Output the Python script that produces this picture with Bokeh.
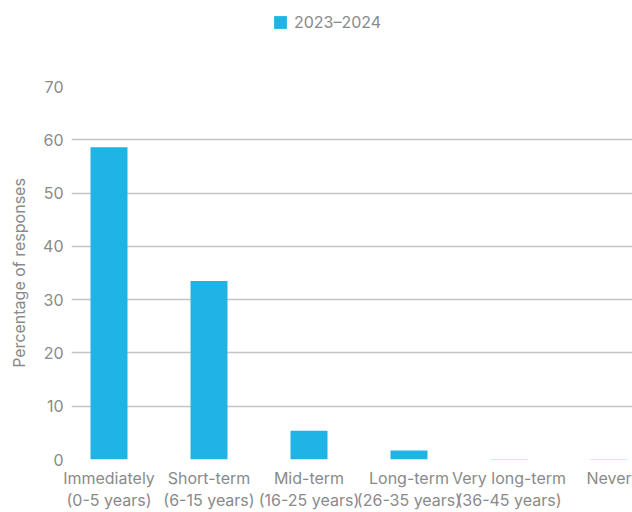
from bokeh.plotting import figure
from bokeh.models import ColumnDataSource, Legend, LegendItem, FixedTicker, Range1d
from bokeh.layouts import column
from bokeh.embed import file_html
from bokeh.resources import INLINE

categories = ["Immediately\n(0-5 years)", "Short-term\n(6-15 years)", "Mid-term\n(16-25 years)",
              "Long-term\n(26-35 years)", "Very long-term\n(36-45 years)", "Never"]
values_2023_2024 = [58.6, 33.5, 5.4, 1.7, 0.1, 0.1]
y_ticks = [0, 10, 20, 30, 40, 50, 60, 70]
series_name = "2023–2024"

FONT = "Inter"
GRAY = "#8a8a8a"
BLUE = "#20b3e6"

idx = list(range(len(categories)))
src = ColumnDataSource(dict(x=idx, top=values_2023_2024))

# Legend strip above the chart
lf = figure(width=632, height=76, output_backend="svg", toolbar_location=None,
            x_range=Range1d(0, 1), y_range=Range1d(0, 1),
            x_axis_location=None, y_axis_location=None,
            min_border_left=0, min_border_right=0, min_border_top=0, min_border_bottom=0)
lf.grid.visible = False
lf.outline_line_color = None
lr = lf.vbar(x=[0.5], top=[0], bottom=[0], width=0.0, color=BLUE, line_color=None)
legend = Legend(items=[LegendItem(label=series_name, renderers=[lr])],
                location=(201, 44), orientation="horizontal",
                label_text_font=FONT, label_text_color=GRAY, label_text_font_size="16px",
                glyph_width=16, glyph_height=16, border_line_color=None,
                background_fill_alpha=0, label_standoff=6, padding=0, margin=0)
lf.add_layout(legend, "center")

p = figure(width=632, height=436, output_backend="svg", toolbar_location=None,
           x_range=Range1d(-0.375, 5.235), y_range=Range1d(0, 70),
           min_border_left=71, min_border_right=0, min_border_top=10, min_border_bottom=52)
p.outline_line_color = None
r = p.vbar(x="x", top="top", width=0.37, source=src, color=BLUE, line_color=None)

p.xaxis.ticker = FixedTicker(ticks=idx)
p.xaxis.major_label_overrides = {i: c for i, c in enumerate(categories)}
p.yaxis.ticker = FixedTicker(ticks=y_ticks)
for ax in (p.xaxis[0], p.yaxis[0]):
    ax.axis_line_color = None
    ax.major_tick_line_color = None
    ax.minor_tick_line_color = None
    ax.major_tick_out = 0
    ax.major_tick_in = 0
    ax.minor_tick_out = 0
    ax.minor_tick_in = 0
    ax.major_label_text_color = GRAY
    ax.major_label_text_font = FONT
    ax.major_label_text_font_size = "16px"
p.xaxis.major_label_text_line_height = 1.1
p.xaxis.axis_label_standoff = 0
p.xaxis.major_label_standoff = 8
p.yaxis.major_label_standoff = 8
p.xgrid.grid_line_color = None
p.ygrid.ticker = FixedTicker(ticks=y_ticks)
p.ygrid.grid_line_color = "#c4c4c4"
p.ygrid.grid_line_width = 1.5
p.ygrid.level = "underlay"

p.yaxis.axis_label = "Percentage of responses"
p.yaxis.axis_label_text_font = FONT
p.yaxis.axis_label_text_font_style = "normal"
p.yaxis.axis_label_text_color = GRAY
p.yaxis.axis_label_text_font_size = "16px"
p.yaxis.axis_label_standoff = 11

open("out.html", "w").write(file_html(column(lf, p, spacing=0), INLINE))
